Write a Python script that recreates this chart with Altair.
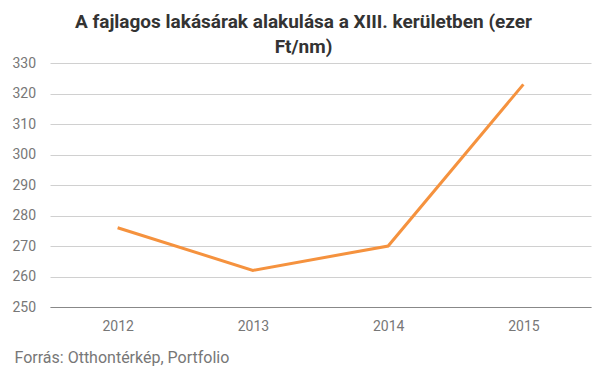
import altair as alt
import pandas as pd

years = ["2012", "2013", "2014", "2015"]
prices = [276, 262, 270, 323]

df = pd.DataFrame({"ev": years, "ar": prices})

chart = alt.Chart(df).mark_line(color="#F5923E", strokeWidth=3).encode(
    x=alt.X("ev:N", sort=years, scale=alt.Scale(paddingInner=0, paddingOuter=0.5),
            axis=alt.Axis(title="Forrás: Otthontérkép, Portfolio", labelAngle=0, ticks=False,
                          domainColor="#888888", labelColor="#777777", labelFont="Roboto",
                          labelFontSize=14, labelPadding=12, grid=False,
                          titleFont="Roboto", titleFontSize=16, titleFontWeight="normal",
                          titleColor="#777777", titleAnchor="start", titleAlign="left",
                          titleX=-36, titleY=50, titleBaseline="middle")),
    y=alt.Y("ar:Q", scale=alt.Scale(domain=[250, 330], nice=False, zero=False),
            axis=alt.Axis(title=None, values=list(range(250, 331, 10)), domain=False,
                          ticks=False, labelAlign="left", labelPadding=38,
                          labelColor="#777777", labelFont="Roboto", labelFontSize=14,
                          gridColor="#D0D0D0")),
).properties(
    width=541,
    height=244,
    title=alt.TitleParams(
        text=["A fajlagos lakásárak alakulása a XIII. kerületben (ezer", "Ft/nm)"],
        font="Roboto", fontSize=19, fontWeight="bold", color="#333333",
        anchor="middle", dx=-17, offset=-1, lineHeight=25,
    ),
    padding={"left": 42, "top": 55, "right": 8, "bottom": 65},
    autosize=alt.AutoSizeParams(type="none"),
).configure_view(stroke=None)

chart.save("out.html", embed_options={"renderer": "svg", "actions": False})
